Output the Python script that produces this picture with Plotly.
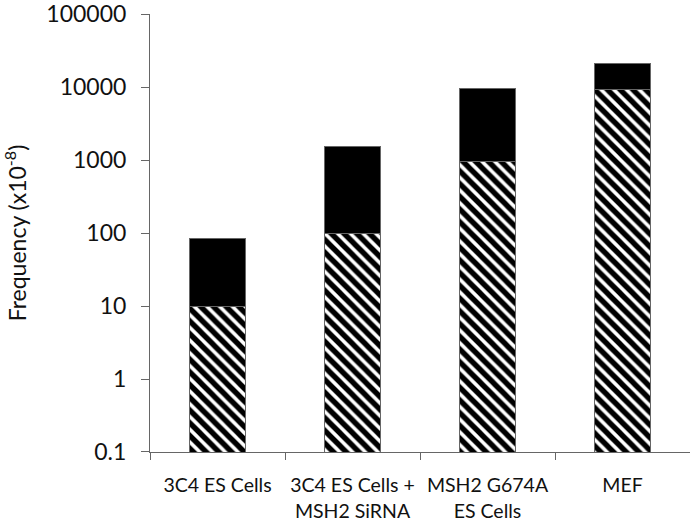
import plotly.graph_objects as go

categories = ["3C4 ES Cells", "3C4 ES Cells +<br>MSH2 SiRNA", "MSH2 G674A<br>ES Cells", "MEF"]
hatched_values = [10, 100, 950, 9100]
total_values = [85, 1550, 9600, 21000]
black_values = [t - h for t, h in zip(total_values, hatched_values)]
y_tickvals = [0.1, 1, 10, 100, 1000, 10000, 100000]
y_ticktext = ["0.1", "1", "10", "100", "1000", "10000", "100000"]

fig = go.Figure()
fig.add_trace(go.Bar(
    x=categories, y=hatched_values,
    marker=dict(color="white", line=dict(color="#666666", width=1),
                pattern=dict(shape="\\", fgcolor="black", bgcolor="white", size=9,
                             solidity=0.6, fgopacity=1)),
    showlegend=False,
))
fig.add_trace(go.Bar(
    x=categories, y=black_values,
    marker=dict(color="black", line=dict(color="#666666", width=1)),
    showlegend=False,
))

fig.update_layout(
    width=690, height=526,
    barmode="stack", bargap=0.59,
    plot_bgcolor="white", paper_bgcolor="white",
    margin=dict(l=150, r=0, t=14, b=74),
    font=dict(family="Lato, Open Sans, sans-serif", color="#111111"),
)
fig.update_yaxes(
    type="log", range=[-1.0001, 5.0001],
    tickvals=y_tickvals, ticktext=y_ticktext,
    ticks="outside", ticklen=8, tickcolor="#666666",
    ticklabelstandoff=10, ticklabeloverflow="allow",
    showline=True, linecolor="#666666", linewidth=1,
    showgrid=False, zeroline=False,
    tickfont=dict(size=23, family="Lato, sans-serif", color="#111111"),
    title=dict(text="Frequency (x10<sup>-8</sup>)", font=dict(size=23, family="Lato, sans-serif", color="#111111"), standoff=16),
)
fig.update_xaxes(
    range=[-0.5, 3.5],
    ticks="outside", tickson="boundaries", ticklen=7, tickcolor="#666666",
    ticklabelstandoff=16,
    showline=True, linecolor="#666666", linewidth=1,
    showgrid=False,
    tickfont=dict(size=19.5, family="Lato, sans-serif", color="#111111"),
)

fig.write_html("out.html", config={"displayModeBar": False},
               post_script="document.body.style.margin='0';")
